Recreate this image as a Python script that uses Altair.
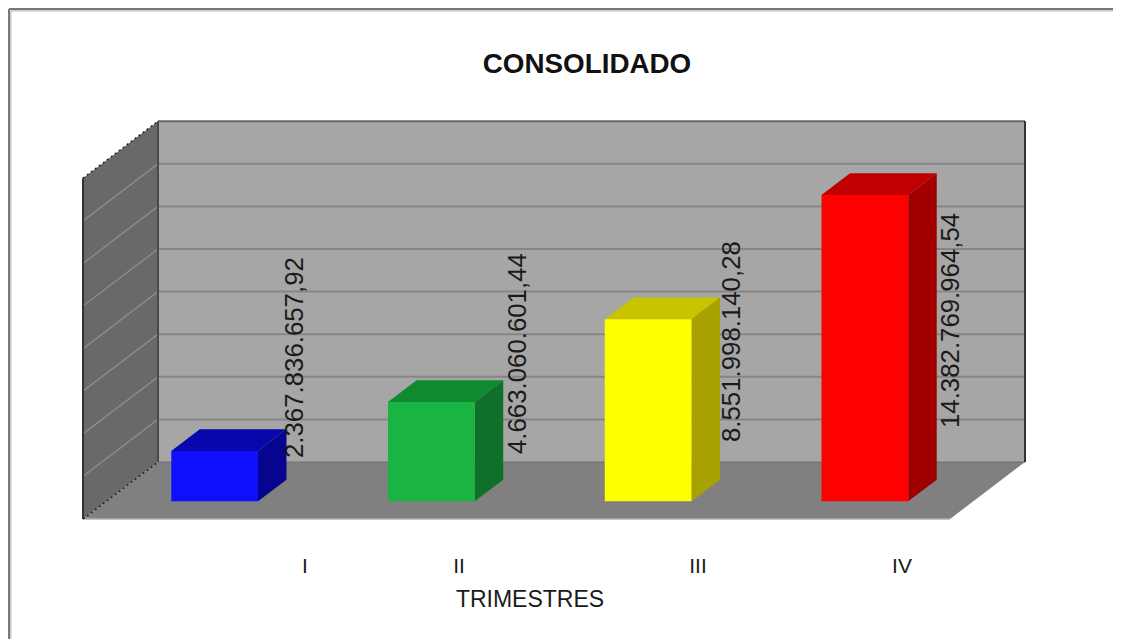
import altair as alt
import pandas as pd

# ---- values ----
title_text = "CONSOLIDADO"
axis_title = "TRIMESTRES"
categories = ["I", "II", "III", "IV"]
values = [2367836657.92, 4663060601.44, 8551998140.28, 14382769964.54]
value_labels = ["2.367.836.657,92", "4.663.060.601,44", "8.551.998.140,28", "14.382.769.964,54"]
front_colors = ["#0f0fff", "#1ab442", "#ffff00", "#ff0000"]
top_colors = ["#0707ab", "#0f8a30", "#c8c400", "#c00000"]
side_colors = ["#05058f", "#0f702a", "#a8a200", "#a00000"]
gridlines = [2, 4, 6, 8, 10, 12, 14, 16]  # thousand millions

# ---- layout: reference pixel <-> scale units ----
SLOT_PX, UNIT_PX = 216.75, 21.3
X0_PX, Y0_PX = 83, 519
PLOT_W, PLOT_H = 1105, 631
def PX(p): return (p - X0_PX) / SLOT_PX
def PY(p): return (Y0_PX - p) / UNIT_PX
DX, DY = 75 / SLOT_PX, 57 / UNIT_PX      # oblique depth of the box
def X(slot, d=0): return slot + d * DX
def Y(v, d=0): return v + d * DY
D0, D1 = 0.31, 0.69                      # bar depth range
BAR = 0.2                                # half bar width in slots
N = len(categories)
TOP = gridlines[-1]

label_x_px = [295, 518, 732, 951]
label_y_px = [458, 454, 442, 428]
tick_x_px = [305, 459, 698, 902]

xs = alt.Scale(domain=[PX(8), PX(8 + PLOT_W)], nice=False, zero=False)
ys = alt.Scale(domain=[PY(8 + PLOT_H), PY(8)], nice=False, zero=False)
def ex(f="x"): return alt.X(f"{f}:Q", scale=xs, axis=None)
def ey(f="y"): return alt.Y(f"{f}:Q", scale=ys, axis=None)
NOCOL = alt.Color("c:N", scale=None, legend=None)

# ---- faces with vertical edges (left wall, bar sides) ----
vert = []
def vface(fid, c, x0, y00, y01, x1, y10, y11):
    vert.append(dict(id=fid, c=c, x=x0, y=y00, y2=y01))
    vert.append(dict(id=fid, c=c, x=x1, y=y10, y2=y11))
# ---- faces with horizontal edges (floor, bar tops) ----
horz = []
def hface(fid, c, y0, x00, x01, y1, x10, x11):
    horz.append(dict(id=fid, c=c, y=y0, x=x00, x2=x01))
    horz.append(dict(id=fid, c=c, y=y1, x=x10, x2=x11))

fronts = []
for i, v in enumerate(values):
    h = v / 1e9
    l, r = i + 0.5 - BAR, i + 0.5 + BAR
    fronts.append(dict(x=X(l, D0), x2=X(r, D0), y=Y(0, D0), y2=Y(h, D0), c=front_colors[i]))
    vface(f"s{i}", side_colors[i], X(r, D0), Y(0, D0), Y(h, D0), X(r, D1), Y(0, D1), Y(h, D1))
    hface(f"t{i}", top_colors[i], Y(h, D0), X(l, D0), X(r, D0), Y(h, D1), X(l, D1), X(r, D1))

wall_vert = [dict(id="w", c="#696969", x=X(0, 0), y=Y(0, 0), y2=Y(TOP, 0)),
             dict(id="w", c="#696969", x=X(0, 1), y=Y(0, 1), y2=Y(TOP, 1))]
floor_h = [dict(id="f", c="#808080", y=Y(0, 0), x=X(0, 0), x2=X(N, 0)),
           dict(id="f", c="#808080", y=Y(0, 1), x=X(0, 1), x2=X(N, 1))]
back = pd.DataFrame([dict(x=X(0, 1), x2=X(N, 1), y=Y(0, 1), y2=Y(TOP, 1))])

def area_v(rows, **kw):
    return alt.Chart(pd.DataFrame(rows)).mark_area(orient="vertical", **kw).encode(
        x=ex(), y=ey(), y2="y2:Q", color=NOCOL, detail="id:N")
def area_h(rows, **kw):
    return alt.Chart(pd.DataFrame(rows)).mark_area(orient="horizontal", **kw).encode(
        y=ey(), x=ex(), x2="x2:Q", color=NOCOL, detail="id:N")
def lines(segs, color, width, dash=None):
    rows = []
    for k, ((a, b), (c, d)) in enumerate(segs):
        rows += [dict(id=k, o=0, x=a, y=b), dict(id=k, o=1, x=c, y=d)]
    kw = dict(color=color, strokeWidth=width, strokeCap="butt")
    if dash:
        kw["strokeDash"] = dash
    return alt.Chart(pd.DataFrame(rows)).mark_line(**kw).encode(
        x=ex(), y=ey(), detail="id:N", order="o:Q")

back_rect = alt.Chart(back).mark_rect(color="#a6a6a6").encode(x=ex(), x2="x2:Q", y=ey(), y2="y2:Q")

grid_back = lines([((X(0, 1), Y(g, 1)), (X(N, 1), Y(g, 1))) for g in gridlines[:-1]], "#868686", 2)
grid_left = lines([((X(0, 0), Y(g, 0)), (X(0, 1), Y(g, 1))) for g in gridlines[:-1]], "#8a8a8a", 1.5)
edge_top = lines([((X(0, 1), Y(TOP, 1)), (X(N, 1), Y(TOP, 1)))], "#666666", 2)
edge_dark = lines([((X(0, 0), Y(0, 0)), (X(0, 0), Y(TOP, 0))),
                   ((X(N, 1), Y(0, 1)), (X(N, 1), Y(TOP, 1)))], "#333333", 2)
edge_mid = lines([((X(0, 1), Y(0, 1)), (X(0, 1), Y(TOP, 1)))], "#4a4a4a", 2)
edge_floor = lines([((X(0, 0), Y(0, 0)), (X(N, 0), Y(0, 0)))], "#b0b0b0", 1.5)
edge_back = lines([((X(0, 1), Y(0, 1)), (X(N, 1), Y(0, 1)))], "#707070", 1)
edge_dash = lines([((X(0, 0), Y(TOP, 0)), (X(0, 1), Y(TOP, 1))),
                   ((X(0, 0), Y(0, 0)), (X(0, 1), Y(0, 1)))], "#222222", 1.5, [2, 3])

bars_front = alt.Chart(pd.DataFrame(fronts)).mark_rect().encode(
    x=ex(), x2="x2:Q", y=ey(), y2="y2:Q", color=NOCOL)

label_df = pd.DataFrame(dict(t=value_labels, x=[PX(p) for p in label_x_px], y=[PY(p) for p in label_y_px]))
val_text = alt.Chart(label_df).mark_text(
    font="Liberation Sans", fontSize=25.8, angle=270, align="left", baseline="middle", color="#1a1a1a"
).encode(x=ex(), y=ey(), text="t:N")

tick_df = pd.DataFrame(dict(t=categories, x=[PX(p) for p in tick_x_px], y=[PY(566.5)] * N))
tick_text = alt.Chart(tick_df).mark_text(
    font="Liberation Sans", fontSize=21, align="center", baseline="middle", color="#1a1a1a"
).encode(x=ex(), y=ey(), text="t:N")

axis_df = pd.DataFrame(dict(t=[axis_title], x=[PX(530)], y=[PY(600)]))
axis_text = alt.Chart(axis_df).mark_text(
    font="Liberation Sans", fontSize=23, align="center", baseline="middle", color="#1a1a1a"
).encode(x=ex(), y=ey(), text="t:N")

title_df = pd.DataFrame(dict(t=[title_text], x=[PX(587)], y=[PY(64.5)]))
title_mark = alt.Chart(title_df).mark_text(
    font="Liberation Sans", fontSize=27.8, fontWeight="bold", align="center", baseline="middle", color="#111111"
).encode(x=ex(), y=ey(), text="t:N")

frame_dark = lines([((PX(9), PY(8 + PLOT_H)), (PX(9), PY(9))), ((PX(9), PY(9)), (PX(8 + PLOT_W), PY(9)))], "#787878", 2)
frame_light = lines([((PX(10.8), PY(8 + PLOT_H)), (PX(10.8), PY(10.8))), ((PX(10.8), PY(10.8)), (PX(8 + PLOT_W), PY(10.8)))], "#c8c8c8", 1.5)

chart = alt.layer(
    frame_light, frame_dark,
    back_rect, area_v(wall_vert), area_h(floor_h),
    grid_back, grid_left, edge_back, edge_top, edge_mid, edge_dark, edge_floor, edge_dash,
    area_h(horz), area_v(vert), bars_front,
    val_text, tick_text, axis_text, title_mark,
).properties(
    width=PLOT_W, height=PLOT_H, padding=0,
    autosize=alt.AutoSizeParams(type="none"),
).configure_view(stroke=None)

chart.save("out.html", embed_options={"renderer": "svg", "actions": False})
